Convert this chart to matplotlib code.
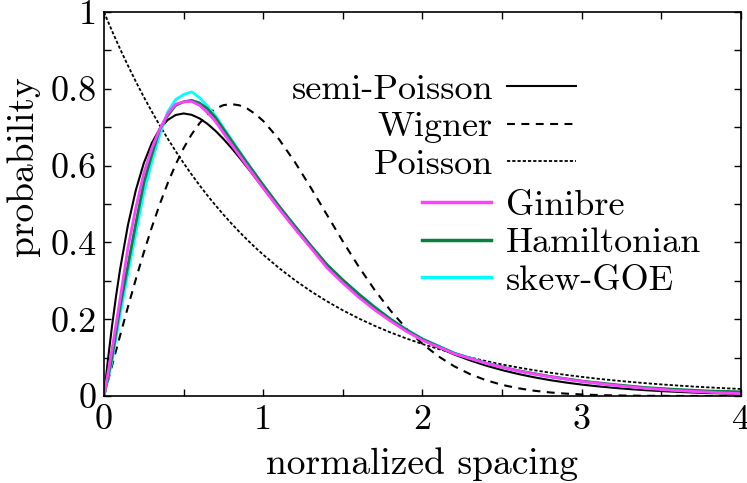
import matplotlib
matplotlib.use("Agg")
import matplotlib.pyplot as plt
from matplotlib.ticker import MultipleLocator

plt.rcParams['font.family'] = ['cmr10', 'DejaVu Serif']
plt.rcParams['mathtext.fontset'] = 'cm'
plt.rcParams['axes.formatter.use_mathtext'] = True

# ---- theory curves ----
s_theory = [0.0, 0.025, 0.05, 0.075, 0.1, 0.15, 0.2, 0.25, 0.3, 0.35, 0.4, 0.45, 0.5,
            0.55, 0.6, 0.65, 0.7, 0.75, 0.8, 0.85, 0.9, 0.95, 1.0,
            1.1, 1.2, 1.3, 1.4, 1.5, 1.6, 1.7, 1.8, 1.9, 2.0,
            2.1, 2.2, 2.3, 2.4, 2.5, 2.6, 2.7, 2.8, 2.9, 3.0,
            3.1, 3.2, 3.3, 3.4, 3.5, 3.6, 3.7, 3.8, 3.9, 4.0]
semi_poisson = [0.0, 0.0951, 0.1810, 0.2582, 0.3275, 0.4445, 0.5363, 0.6065, 0.6586, 0.6952, 0.7189, 0.7318, 0.7358,
                0.7323, 0.7229, 0.7086, 0.6905, 0.6694, 0.6461, 0.6211, 0.5951, 0.5684, 0.5413,
                0.4875, 0.4354, 0.3862, 0.3405, 0.2987, 0.2609, 0.2269, 0.1967, 0.1700, 0.1465,
                0.1260, 0.1080, 0.0925, 0.0790, 0.0674, 0.0574, 0.0488, 0.0414, 0.0351, 0.0297,
                0.0252, 0.0213, 0.0180, 0.0151, 0.0128, 0.0108, 0.0090, 0.0076, 0.0064, 0.0054]
wigner = [0.0, 0.0393, 0.0784, 0.1173, 0.1558, 0.2315, 0.3044, 0.3739, 0.4391, 0.4993, 0.5541, 0.6029, 0.6454,
          0.6812, 0.7103, 0.7327, 0.7483, 0.7574, 0.7602, 0.7570, 0.7483, 0.7345, 0.7162,
          0.6680, 0.6083, 0.5415, 0.4718, 0.4025, 0.3365, 0.2759, 0.2220, 0.1752, 0.1358,
          0.1033, 0.0772, 0.0567, 0.0409, 0.0290, 0.0202, 0.0138, 0.0093, 0.0062, 0.0040,
          0.0025, 0.0016, 0.0010, 0.0006, 0.0003, 0.0002, 0.0001, 0.0001, 0.0000, 0.0000]
poisson = [1.0, 0.9753, 0.9512, 0.9277, 0.9048, 0.8607, 0.8187, 0.7788, 0.7408, 0.7047, 0.6703, 0.6376, 0.6065,
           0.5769, 0.5488, 0.5220, 0.4966, 0.4724, 0.4493, 0.4274, 0.4066, 0.3867, 0.3679,
           0.3329, 0.3012, 0.2725, 0.2466, 0.2231, 0.2019, 0.1827, 0.1653, 0.1496, 0.1353,
           0.1225, 0.1108, 0.1003, 0.0907, 0.0821, 0.0743, 0.0672, 0.0608, 0.0550, 0.0498,
           0.0450, 0.0408, 0.0369, 0.0334, 0.0302, 0.0273, 0.0247, 0.0224, 0.0202, 0.0183]

# ---- numerical data ----
s_data = [0.0, 0.05, 0.10, 0.15, 0.20, 0.25, 0.30, 0.35, 0.40, 0.45, 0.50, 0.55, 0.60, 0.65, 0.70,
          0.80, 0.90, 1.0, 1.1, 1.2, 1.3, 1.4, 1.5, 1.6, 1.7, 1.8, 1.9, 2.0,
          2.2, 2.4, 2.6, 2.8, 3.0, 3.2, 3.4, 3.6, 3.8, 4.0]
ginibre = [0.0, 0.12, 0.25, 0.385, 0.49, 0.58, 0.645, 0.695, 0.735, 0.760, 0.766, 0.767, 0.757, 0.738, 0.715,
           0.655, 0.598, 0.541, 0.487, 0.435, 0.385, 0.334, 0.294, 0.257, 0.224, 0.195, 0.168, 0.145,
           0.110, 0.085, 0.065, 0.050, 0.038, 0.028, 0.020, 0.014, 0.010, 0.006]
hamiltonian = [0.0, 0.10, 0.23, 0.34, 0.45, 0.555, 0.628, 0.695, 0.730, 0.757, 0.766, 0.770, 0.763, 0.748, 0.725,
               0.665, 0.606, 0.549, 0.494, 0.442, 0.391, 0.342, 0.302, 0.265, 0.231, 0.200, 0.172, 0.148,
               0.111, 0.085, 0.066, 0.051, 0.039, 0.030, 0.022, 0.017, 0.013, 0.011]
skew_goe = [0.0, 0.09, 0.21, 0.32, 0.425, 0.53, 0.61, 0.68, 0.74, 0.772, 0.785, 0.792, 0.777, 0.755, 0.730,
            0.668, 0.607, 0.549, 0.493, 0.441, 0.390, 0.342, 0.302, 0.266, 0.232, 0.200, 0.173, 0.149,
            0.112, 0.086, 0.065, 0.050, 0.038, 0.028, 0.021, 0.015, 0.011, 0.008]

x_ticks = [0, 1, 2, 3, 4]
x_ticklabels = ['0', '1', '2', '3', '4']
y_ticks = [0, 0.2, 0.4, 0.6, 0.8, 1.0]
y_ticklabels = ['0', '0.2', '0.4', '0.6', '0.8', '1']

fig = plt.figure(figsize=(7.47, 4.83), dpi=100)
ax = fig.add_axes([104/747, 1 - 396/483, (741-104)/747, (396-12)/483])

l_sp, = ax.plot(s_theory, semi_poisson, color='black', lw=1.5, ls='-', label='semi-Poisson')
l_w, = ax.plot(s_theory, wigner, color='black', lw=1.5, ls=(0, (3.8, 3.1)), label='Wigner')
l_p, = ax.plot(s_theory, poisson, color='black', lw=1.3, ls=(0, (1.8, 1.1)), label='Poisson')
l_sk, = ax.plot(s_data, skew_goe, color='#00ffff', lw=2.0, label='skew-GOE')
l_h, = ax.plot(s_data, hamiltonian, color='#0a8040', lw=2.0, label='Hamiltonian')
l_g, = ax.plot(s_data, ginibre, color='#ff40ff', lw=2.0, label='Ginibre')

ax.set_xlim(0, 4)
ax.set_ylim(0, 1)
ax.set_xticks(x_ticks)
ax.set_xticklabels(x_ticklabels)
ax.set_yticks(y_ticks)
ax.set_yticklabels(y_ticklabels)
ax.xaxis.set_minor_locator(MultipleLocator(0.5))
ax.yaxis.set_minor_locator(MultipleLocator(0.1))
ax.tick_params(which='both', direction='in', top=True, right=True, length=5, width=1.0)
ax.tick_params(which='major', labelsize=26)
ax.tick_params(axis='y', which='major', pad=5)
ax.tick_params(axis='x', which='major', pad=6)
for sp in ax.spines.values():
    sp.set_linewidth(1.2)

ax.set_xlabel('normalized spacing', fontsize=27, labelpad=8)
ax.set_ylabel('probability', fontsize=27)
ax.yaxis.set_label_coords(-0.10, 0.60)

leg1 = ax.legend(handles=[l_sp, l_w, l_p], markerfirst=False, frameon=False,
                 loc='upper right', bbox_to_anchor=(0.741, 0.840), borderpad=0,
                 borderaxespad=0, handlelength=1.9, handletextpad=0.4,
                 labelspacing=0.15, fontsize=26)
ax.add_artist(leg1)
leg2 = ax.legend(handles=[l_g, l_h, l_sk], markerfirst=True, frameon=False,
                 loc='upper left', bbox_to_anchor=(0.5, 0.538), borderpad=0,
                 borderaxespad=0, handlelength=1.9, handletextpad=0.4,
                 labelspacing=0.15, fontsize=26)
for h in leg2.legend_handles:
    h.set_linewidth(2.5)

fig.savefig('out.png', dpi=100)
